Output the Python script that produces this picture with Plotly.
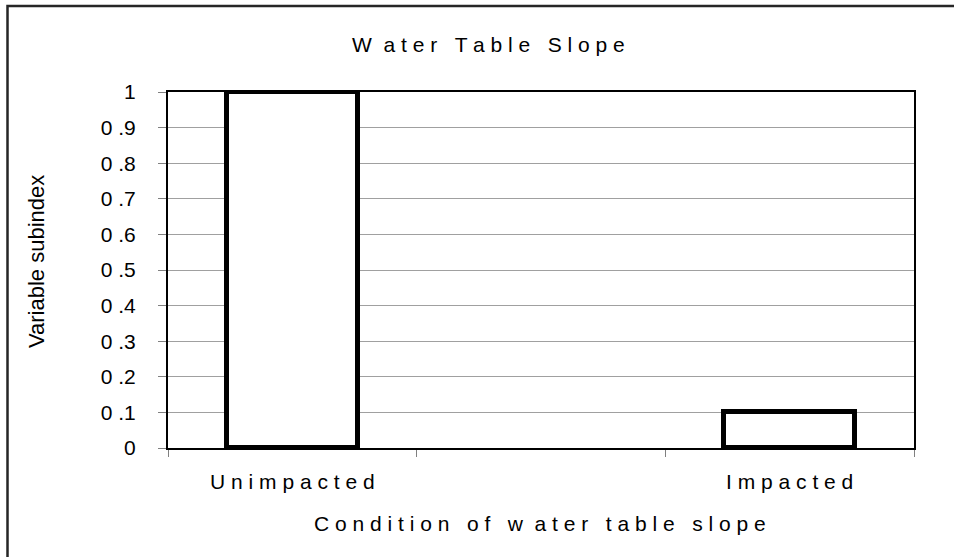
import plotly.graph_objects as go

categories = ["Unimpacted", " ", "Impacted"]
values = [1.0, None, 0.1]
ytick_vals = [0, 0.1, 0.2, 0.3, 0.4, 0.5, 0.6, 0.7, 0.8, 0.9, 1]
ytick_text = ["0", "0 .1", "0 .2", "0 .3", "0 .4", "0 .5", "0 .6", "0 .7", "0 .8", "0 .9", "1"]
title_text = "Water Table Slope"
xtitle_text = "Condition of water table slope"
ytitle_text = "Variable subindex"


def spaced(s):
    words = s.split(" ")
    return "\u00a0\u00a0\u00a0".join(" ".join(list(w)) for w in words)


FONT = "Liberation Sans, Arial, sans-serif"

# plot area in page pixels: x 168..914, y 92..448 (page body margin removed)
W, H = 954, 557
L, T = 168, 92
R, B = 954 - 914, 557 - 448
pw, ph = W - L - R, H - T - B


def px(x):
    return (x - L) / pw


def py(y):
    return (H - B - y) / ph


fig = go.Figure()
fig.add_trace(go.Bar(
    x=categories, y=values, width=0.527,
    marker=dict(color="white", line=dict(color="black", width=5)),
    showlegend=False, hoverinfo="skip",
))

fig.update_layout(
    width=W, height=H,
    margin=dict(l=L, r=R, t=T, b=B),
    paper_bgcolor="white", plot_bgcolor="white",
    font=dict(family=FONT, size=21, color="black"),
    xaxis=dict(
        type="category", categoryorder="array", categoryarray=categories,
        tickvals=categories,
        ticktext=[spaced(c) if c.strip() else "" for c in categories],
        tickson="boundaries", ticks="outside", ticklen=7, tickcolor="#808080", tickwidth=1,
        showline=True, linecolor="black", linewidth=2, mirror=True,
        showgrid=False, range=[-0.5, 2.5],
        tickfont=dict(size=21, family=FONT),
        ticklabelstandoff=14,
    ),
    yaxis=dict(
        range=[0, 1], tickvals=ytick_vals, ticktext=ytick_text,
        ticks="outside", ticklen=8, tickcolor="#808080", tickwidth=1,
        showline=True, linecolor="black", linewidth=2, mirror=True,
        showgrid=True, gridcolor="#a0a0a0", gridwidth=1,
        tickfont=dict(size=21, family=FONT),
        ticklabelstandoff=18, zeroline=False,
    ),
    bargap=0,
)

fig.add_annotation(text=spaced(title_text).replace("W a", "W \u00a0a"), xref="paper", yref="paper",
                   x=px(488), y=py(45), showarrow=False, xanchor="center", yanchor="middle",
                   font=dict(size=21, family=FONT))
fig.add_annotation(text=spaced(xtitle_text).replace("w a", "w \u00a0a"), xref="paper", yref="paper",
                   x=px(540), y=py(523), showarrow=False, xanchor="center", yanchor="middle",
                   font=dict(size=21, family=FONT))
fig.add_annotation(text=ytitle_text, xref="paper", yref="paper",
                   x=px(36), y=py(262), showarrow=False, xanchor="center", yanchor="middle",
                   textangle=-90, font=dict(size=22, family=FONT))

fig.add_shape(type="rect", xref="paper", yref="paper",
              x0=px(7.5), x1=px(975), y0=py(575), y1=py(6),
              line=dict(color="#262626", width=2.5), fillcolor="rgba(0,0,0,0)", layer="above")

fig.write_html("out.html", config={"displayModeBar": False},
               post_script="document.body.style.margin='0';document.body.style.padding='0';")
